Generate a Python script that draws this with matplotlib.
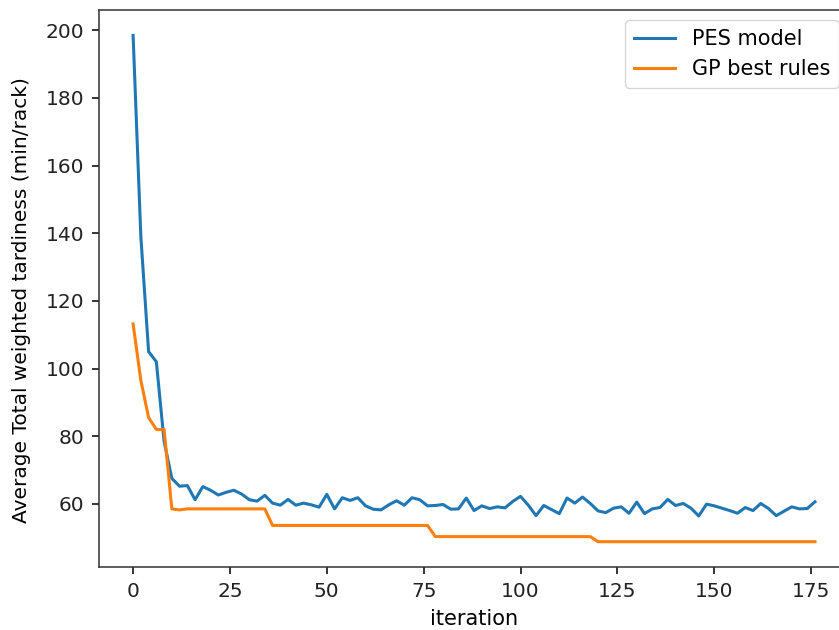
import numpy as np
import matplotlib
matplotlib.use("Agg")
import matplotlib.pyplot as plt

# iteration index (every second iteration was logged)
iterations = np.arange(0, 177, 2)

pes_model = [
    198.5, 139.0, 105.0, 102.0, 78.5, 67.5, 65.2, 65.4, 61.2, 65.1,
    64.0, 62.6, 63.4, 64.0, 62.9, 61.2, 60.8, 62.5, 60.2, 59.6,
    61.3, 59.6, 60.2, 59.7, 59.0, 62.8, 58.5, 61.8, 61.0, 61.8,
    59.4, 58.4, 58.2, 59.7, 60.9, 59.6, 61.8, 61.2, 59.4, 59.5,
    59.8, 58.4, 58.5, 61.7, 58.0, 59.4, 58.6, 59.1, 58.8, 60.7,
    62.2, 59.6, 56.5, 59.5, 58.3, 57.1, 61.7, 60.2, 62.0, 60.1,
    57.9, 57.4, 58.7, 59.1, 57.2, 60.5, 57.1, 58.5, 58.9, 61.3,
    59.5, 60.1, 58.7, 56.4, 59.9, 59.4, 58.7, 58.0, 57.2, 58.9,
    58.0, 60.1, 58.6, 56.5, 57.8, 59.1, 58.5, 58.6, 60.6,
]

gp_best = [
    113.2, 96.5, 85.5, 82.0, 82.0, 58.5, 58.2, 58.5, 58.5, 58.5,
    58.5, 58.5, 58.5, 58.5, 58.5, 58.5, 58.5, 58.5, 53.6, 53.6,
    53.6, 53.6, 53.6, 53.6, 53.6, 53.6, 53.6, 53.6, 53.6, 53.6,
    53.6, 53.6, 53.6, 53.6, 53.6, 53.6, 53.6, 53.6, 53.6, 50.3,
    50.3, 50.3, 50.3, 50.3, 50.3, 50.3, 50.3, 50.3, 50.3, 50.3,
    50.3, 50.3, 50.3, 50.3, 50.3, 50.3, 50.3, 50.3, 50.3, 50.3,
    48.8, 48.8, 48.8, 48.8, 48.8, 48.8, 48.8, 48.8, 48.8, 48.8,
    48.8, 48.8, 48.8, 48.8, 48.8, 48.8, 48.8, 48.8, 48.8, 48.8,
    48.8, 48.8, 48.8, 48.8, 48.8, 48.8, 48.8, 48.8, 48.8,
]

plt.rcParams['font.size'] = 14.5

fig = plt.figure(figsize=(8.39, 6.3), dpi=100)
ax = fig.add_axes([0.118, 0.1, 0.894, 0.884])

ax.plot(iterations, pes_model, color='#1f77b4', linewidth=2.2, label='PES model')
ax.plot(iterations, gp_best, color='#ff7f0e', linewidth=2.2, label='GP best rules')

ax.set_xlabel('iteration', fontsize=15, labelpad=6)
ax.set_ylabel('Average Total weighted tardiness (min/rack)', fontsize=14.5)
ax.yaxis.set_label_coords(-0.09, 0.48)
ax.set_xticks([0, 25, 50, 75, 100, 125, 150, 175])
ax.set_yticks([60, 80, 100, 120, 140, 160, 180, 200])
ax.tick_params(length=5, width=1.1, pad=5.5, labelcolor='#222222')
for sp in ax.spines.values():
    sp.set_linewidth(1.1)
    sp.set_color('#333333')
ax.legend(loc='upper right', fontsize=15)

fig.savefig('out.png', dpi=100)
